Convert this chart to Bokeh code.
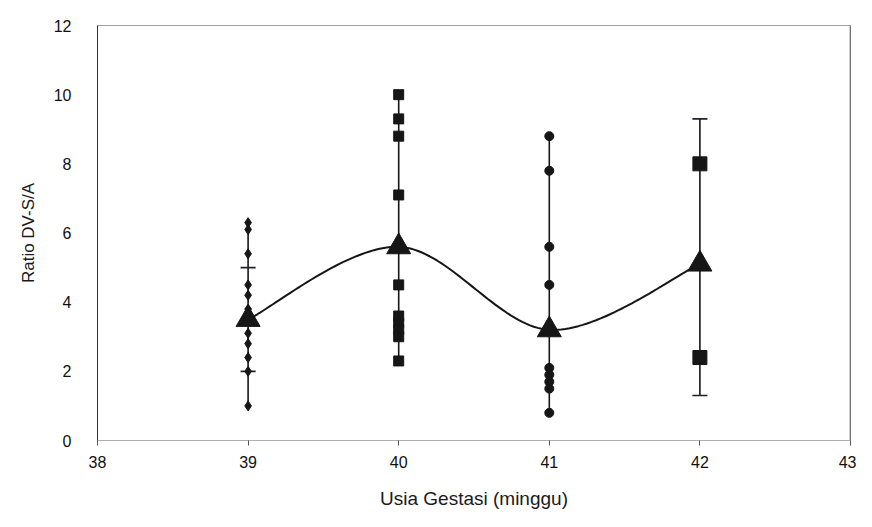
import numpy as np
from bokeh.plotting import figure
from bokeh.models import Range1d, FixedTicker, Span
from bokeh.embed import file_html
from bokeh.resources import INLINE

# ---- data ----
weeks = [39, 40, 41, 42]
vals_39 = [6.3, 6.1, 5.4, 4.5, 4.2, 3.8, 3.1, 2.8, 2.4, 2.0, 1.0]
vals_40 = [10.0, 9.3, 8.8, 7.1, 4.5, 3.6, 3.4, 3.2, 3.0, 2.3]
vals_41 = [8.8, 7.8, 5.6, 4.5, 2.1, 1.9, 1.7, 1.5, 0.8]
vals_42 = [8.0, 2.4]
means = [3.5, 5.6, 3.2, 5.1]
err_weeks = [39, 42]
err_low = [2.0, 1.3]
err_high = [5.0, 9.3]
x_ticks = [38, 39, 40, 41, 42, 43]
y_ticks = [0, 2, 4, 6, 8, 10, 12]

FONT = "Liberation Sans"
INK = "#161616"

p = figure(width=856, height=511, output_backend="svg", toolbar_location=None,
           x_range=Range1d(38, 43), y_range=Range1d(0, 12),
           min_border_left=97, min_border_right=6, min_border_top=25, min_border_bottom=71)
p.background_fill_color = "white"
p.border_fill_color = "white"
p.outline_line_color = "#a0a0a0"
p.outline_line_width = 1
p.xgrid.visible = False
p.ygrid.visible = False

# axes
p.xaxis.ticker = FixedTicker(ticks=x_ticks)
p.yaxis.ticker = FixedTicker(ticks=y_ticks)
p.xaxis.minor_tick_line_color = None
p.yaxis.minor_tick_line_color = None
p.xaxis.axis_line_color = "#b0b0b0"
p.yaxis.axis_line_color = "#333333"
p.xaxis.major_tick_line_color = "#555555"
p.xaxis.major_tick_in = 0
p.xaxis.major_tick_out = 5
p.yaxis.major_tick_line_color = None
p.xaxis.major_label_standoff = 10
p.yaxis.major_label_standoff = 20
for ax in (p.xaxis, p.yaxis):
    ax.major_label_text_font = FONT
    ax.major_label_text_font_size = "16px"
    ax.major_label_text_color = "#111111"
    ax.axis_label_text_font = FONT
    ax.axis_label_text_font_style = "normal"
    ax.axis_label_text_color = "#1a1a1a"
p.xaxis.axis_label = "Usia Gestasi (minggu)"
p.xaxis.axis_label_text_font_size = "19px"
p.xaxis.axis_label_standoff = 17
p.yaxis.axis_label = "Ratio DV-S/A"
p.yaxis.axis_label_text_font_size = "17px"
p.yaxis.axis_label_standoff = 13

# darker right border of the frame
p.add_layout(Span(location=43, dimension="height", line_color="#444444", line_width=1.5))

groups = [vals_39, vals_40, vals_41, vals_42]

# vertical connecting lines through each group (spanning points and error caps)
seg_lo, seg_hi = [], []
for w, g in zip(weeks, groups):
    lo, hi = min(g), max(g)
    if w in err_weeks:
        k = err_weeks.index(w)
        lo = min(lo, err_low[k])
        hi = max(hi, err_high[k])
    seg_lo.append(lo)
    seg_hi.append(hi)
p.segment(x0=weeks, y0=seg_lo, x1=weeks, y1=seg_hi, line_color=INK, line_width=1.6)

# error caps
p.segment(x0=[w - 0.05 for w in err_weeks], y0=err_high, x1=[w + 0.05 for w in err_weeks], y1=err_high,
          line_color="#20202e", line_width=1.6)
p.segment(x0=[w - 0.05 for w in err_weeks], y0=err_low, x1=[w + 0.05 for w in err_weeks], y1=err_low,
          line_color="#20202e", line_width=1.6)

# individual points
p.scatter([39] * len(vals_39), vals_39, marker="diamond", size=10, color=INK)
p.scatter([40] * len(vals_40), vals_40, marker="square", size=10, color=INK)
p.scatter([41] * len(vals_41), vals_41, marker="circle", size=9, color=INK)
p.scatter([42] * len(vals_42), vals_42, marker="square", size=14, color=INK)

# smoothed line through the means (Catmull-Rom rendering)
P = np.column_stack([np.array(weeks, float), np.array(means, float)])
Pe = np.vstack([P[0], P, P[-1]])
cx, cy = [], []
for i in range(1, len(Pe) - 2):
    p0, p1, p2, p3 = Pe[i - 1], Pe[i], Pe[i + 1], Pe[i + 2]
    t = np.linspace(0, 1, 40)[:, None]
    pts = 0.5 * ((2 * p1) + (-p0 + p2) * t + (2 * p0 - 5 * p1 + 4 * p2 - p3) * t ** 2
                 + (-p0 + 3 * p1 - 3 * p2 + p3) * t ** 3)
    cx.extend(pts[:, 0])
    cy.extend(pts[:, 1])
p.line(cx, cy, line_color=INK, line_width=2)

# means
p.scatter(weeks, means, marker="triangle", size=24, color=INK)

open("out.html", "w").write(file_html(p, INLINE))
